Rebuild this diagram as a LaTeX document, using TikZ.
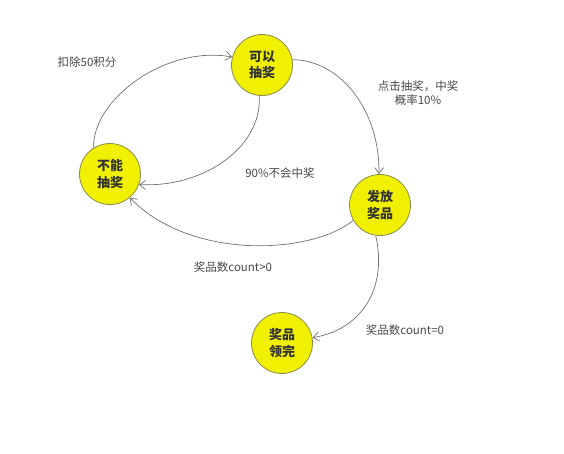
\documentclass[tikz,border=0pt]{standalone}
\usepackage{fontspec}
\setmainfont{Noto Sans CJK SC}
\usetikzlibrary{arrows.meta}
\definecolor{ballfill}{HTML}{F0F000}
\definecolor{balledge}{HTML}{8C8C50}
\definecolor{linegray}{HTML}{707070}
\definecolor{labelgray}{HTML}{484848}
\tikzset{
  state/.style={circle, draw=balledge, line width=0.8pt, fill=ballfill, minimum size=61pt, inner sep=0pt, align=center, font=\fontsize{13}{16.5}\selectfont\bfseries, text=black!80},
  conn/.style={draw=linegray, line width=0.7pt, -{Straight Barb[length=6pt,width=9pt]}},
  lbl/.style={font=\fontsize{11.5}{14}\selectfont, text=labelgray, align=center},
}
\begin{document}
\begin{tikzpicture}[x=1pt,y=-1pt]
\useasboundingbox (0,0) rectangle (564,453);
\fill[white] (0,0) rectangle (564,453);
\node[state] (A) at (262,65) {可以\\抽奖};
\node[state] (B) at (110,174) {不能\\抽奖};
\node[state] (C) at (380,205) {发放\\奖品};
\node[state] (D) at (282,343) {奖品\\领完};

\draw[conn] (B.122) .. controls (92,100) and (165,45) .. (A.165);
\draw[conn] (A.265) .. controls (262,150) and (200,188) .. (B.-20);
\draw[conn] (A.10) .. controls (340,60) and (380,110) .. (C.92);
\draw[conn] (C.210) .. controls (310,255) and (190,260) .. (B.-50);
\draw[conn] (C.-98) .. controls (388,290) and (360,330) .. (D.10);

\node[lbl] (l1) at (87,62) {扣除50积分};
\node[lbl] (l2) at (280,173) {90\%不会中奖};
\node[lbl] (l3) at (418,93) {点击抽奖，中奖\\概率10\%};
\node[lbl] (l4) at (233,267) {奖品数count>0};
\node[lbl] (l5) at (405,330) {奖品数count=0};
\end{tikzpicture}
\end{document}
